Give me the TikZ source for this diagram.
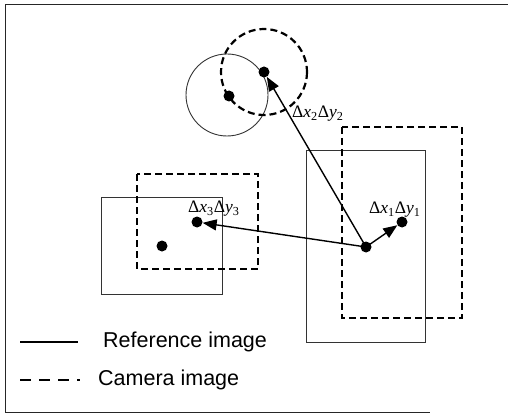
\documentclass[tikz,border=0pt]{standalone}
\usepackage{fontspec}
\setmainfont{Liberation Serif}
\newfontfamily\legfont{Liberation Sans}
\usetikzlibrary{arrows.meta}
\begin{document}
\begin{tikzpicture}[x=1pt,y=-1pt,
  refline/.style={draw=black!80,line width=0.9pt},
  camline/.style={draw=black,line width=2.2pt,dash pattern=on 7pt off 4pt},
  dotnode/.style={circle,fill=black,inner sep=0pt,minimum size=11pt},
  vecarrow/.style={line width=1.4pt,-{Triangle[length=14pt,width=11pt]}},
  lbl/.style={font=\fontsize{17.5}{17.5}\selectfont,inner sep=0pt},
  legtext/.style={font=\legfont\fontsize{21.5}{21.5}\selectfont,anchor=west,inner sep=0pt}]
\useasboundingbox (0,0) rectangle (508,414);
% frame
\draw[line width=1pt,black!85] (508,5) -- (5,5) -- (5,412) -- (430,412);
% reference image shapes
\draw[refline] (227,95) circle (41);
\draw[refline] (306,150) rectangle (425,342);
\draw[refline] (101,197) rectangle (222,294);
% camera image shapes
\draw[camline] (264,72) circle (43);
\draw[camline] (342,127) rectangle (462,318);
\draw[camline] (137,174) rectangle (258,269);
% dots
\node[dotnode] (c2r) at (229,96) {};
\node[dotnode] (c2c) at (264,72) {};
\node[dotnode] (c1r) at (366,247) {};
\node[dotnode] (c1c) at (402,222) {};
\node[dotnode] (c3r) at (162,246) {};
\node[dotnode] (c3c) at (197,222) {};
% vectors
\draw[vecarrow] (c1r.center) -- (c2c);
\draw[vecarrow] (c1r.center) -- (c1c);
\draw[vecarrow] (c1r.center) -- (c3c);
% labels
\node[lbl,anchor=west] (l2) at (292,114) {Δ\textit{x}\textsubscript{2}Δ\textit{y}\textsubscript{2}};
\node[lbl,anchor=west] (l1) at (369,210) {Δ\textit{x}\textsubscript{1}Δ\textit{y}\textsubscript{1}};
\node[lbl,anchor=west] (l3) at (188,209) {Δ\textit{x}\textsubscript{3}Δ\textit{y}\textsubscript{3}};
% legend
\coordinate (ls1) at (20,342);
\coordinate (ls2) at (78,342);
\coordinate (lc1) at (20,380);
\coordinate (lc2) at (80,380);
\draw[line width=1.2pt] (ls1) -- (ls2);
\draw[line width=1.2pt,dash pattern=on 11pt off 8pt] (lc1) -- (lc2);
\node[legtext] (t1) at (103,342) {Reference image};
\node[legtext] (t2) at (98,380) {Camera image};
\end{tikzpicture}
\end{document}
